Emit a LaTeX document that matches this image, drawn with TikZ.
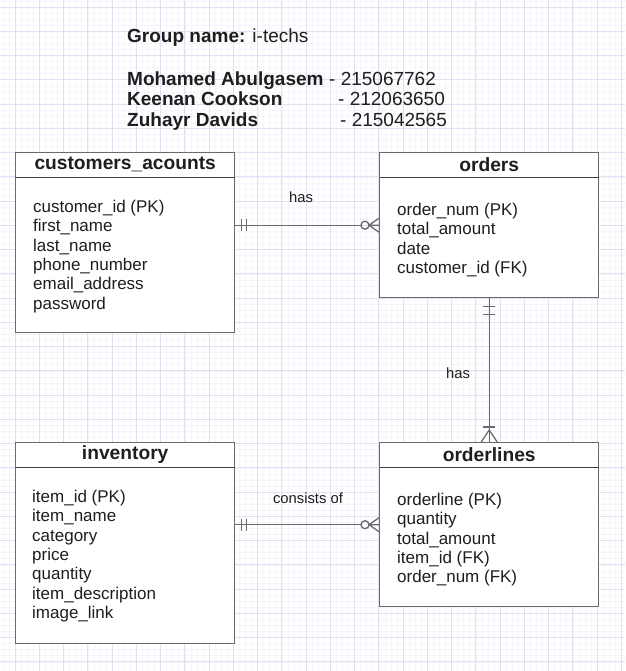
\documentclass[tikz,border=0pt]{standalone}
\usepackage{fontspec}
\setmainfont{Liberation Sans}
\usetikzlibrary{positioning}
\definecolor{gridMajor}{HTML}{E0E0F2}
\definecolor{gridMinor}{HTML}{F5F5FB}
\definecolor{lineGray}{HTML}{6A6A6A}
\definecolor{textDark}{HTML}{1E1E1E}

\begin{document}
\begin{tikzpicture}
  [x=1pt,y=-1pt,
   tableBox/.style={rectangle,draw=lineGray,line width=1.4pt,fill=white,anchor=north west,minimum width=219pt,inner sep=0pt},
   tableTitle/.style={rectangle,minimum width=219pt,minimum height=25pt,inner sep=0pt,anchor=north,font=\fontsize{19.2}{21}\selectfont\bfseries,text=textDark},
   titleRule/.style={draw=lineGray!60!black,line width=1.4pt},
   attrList/.style={align=left,anchor=north west,inner sep=0pt,font=\fontsize{17}{19.3}\selectfont,text=textDark},
   relLine/.style={draw=lineGray,line width=1.3pt},
   relLabel/.style={font=\fontsize{14.8}{16}\selectfont,text=textDark},
   headText/.style={anchor=base west,inner sep=0pt,font=\fontsize{19}{21}\selectfont,text=textDark},
   headName/.style={headText,font=\fontsize{19}{21}\selectfont\bfseries}]

  \useasboundingbox[fill=white] (0,0) rectangle (625,671);
  \foreach \i in {0,...,110} {
    \draw[gridMinor,line width=0.5pt] ({15+6.0625*(\i-3)},0) -- ++(0,671);
    \draw[gridMinor,line width=0.5pt] (0,{7+6.0625*(\i-2)}) -- ++(625,0);
  }
  \foreach \i in {0,...,27} {
    \draw[gridMajor,line width=0.8pt] ({15+24.25*(\i-1)},0) -- ++(0,671);
    \draw[gridMajor,line width=0.8pt] (0,{7+24.25*\i}) -- ++(625,0);
  }

  \node[headText] (groupName) at (127,43) {\textbf{Group name:} i-techs};
  \node[headName] (memberOne) at (127,86) {Mohamed Abulgasem};
  \node[headText] (idOne) at (329,86) {- 215067762};
  \node[headName] (memberTwo) at (127,106) {Keenan Cookson};
  \node[headText] (idTwo) at (338,106) {- 212063650};
  \node[headName] (memberThree) at (127,127) {Zuhayr Davids};
  \node[headText] (idThree) at (340,127) {- 215042565};

  \node[tableBox,minimum height=180pt] (customersAcounts) at (15,152) {};
  \node[tableTitle] (customersTitle) at (customersAcounts.north) {customers\_acounts};
  \draw[titleRule] (customersTitle.south west) -- (customersTitle.south east);
  \node[attrList] (customersAttrs) at ([shift={(18,48)}]customersAcounts.north west)
    {customer\_id (PK)\\first\_name\\last\_name\\phone\_number\\email\_address\\password};

  \node[tableBox,minimum height=145pt] (orders) at (379,152) {};
  \node[tableTitle] (ordersTitle) at (orders.north) {orders};
  \draw[titleRule] (ordersTitle.south west) -- (ordersTitle.south east);
  \node[attrList] (ordersAttrs) at ([shift={(18,51)}]orders.north west)
    {order\_num (PK)\\total\_amount\\date\\customer\_id (FK)};

  \node[tableBox,minimum height=201pt] (inventory) at (15,442) {};
  \node[tableTitle] (inventoryTitle) at (inventory.north) {inventory};
  \draw[titleRule] (inventoryTitle.south west) -- (inventoryTitle.south east);
  \node[attrList] (inventoryAttrs) at ([shift={(17,48)}]inventory.north west)
    {item\_id (PK)\\item\_name\\category\\price\\quantity\\item\_description\\image\_link};

  \node[tableBox,minimum height=164pt] (orderlines) at (379,442) {};
  \node[tableTitle] (orderlinesTitle) at (orderlines.north) {orderlines};
  \draw[titleRule] (orderlinesTitle.south west) -- (orderlinesTitle.south east);
  \node[attrList] (orderlinesAttrs) at ([shift={(18,51)}]orderlines.north west)
    {orderline (PK)\\quantity\\total\_amount\\item\_id (FK)\\order\_num (FK)};

  % customers -- orders
  \coordinate (custEnd) at (customersAcounts.east |- orders.west);
  \coordinate (custCircle) at ([xshift=-14pt]orders.west);
  \draw[relLine] (custEnd) -- ([xshift=-4pt]custCircle);
  \draw[relLine] ([xshift=6pt]custEnd) ++(0,-6) -- ++(0,12);
  \draw[relLine] ([xshift=11pt]custEnd) ++(0,-6) -- ++(0,12);
  \draw[relLine] (custCircle) circle (4pt);
  \draw[relLine] ([xshift=4pt]custCircle) -- ([yshift=-7pt]orders.west)
    ([xshift=4pt]custCircle) -- (orders.west)
    ([xshift=4pt]custCircle) -- ([yshift=7pt]orders.west);
  \node[relLabel] (hasTop) at (301,197) {has};

  % orders -- orderlines
  \draw[relLine] (orders.south) -- (orderlines.north);
  \draw[relLine] ([yshift=-8pt]orders.south) ++(-6,0) -- ++(12,0);
  \draw[relLine] ([yshift=-16pt]orders.south) ++(-6,0) -- ++(12,0);
  \draw[relLine] ([yshift=15pt]orderlines.north) ++(-6,0) -- ++(12,0);
  \draw[relLine] ([yshift=12pt]orderlines.north) -- ([xshift=-8pt]orderlines.north)
    ([yshift=12pt]orderlines.north) -- ([xshift=8pt]orderlines.north);
  \node[relLabel] (hasSide) at (458,373) {has};

  % inventory -- orderlines
  \coordinate (invEnd) at (inventory.east |- orderlines.west);
  \coordinate (invCircle) at ([xshift=-14pt]orderlines.west);
  \draw[relLine] (invEnd) -- ([xshift=-4pt]invCircle);
  \draw[relLine] ([xshift=6pt]invEnd) ++(0,-6) -- ++(0,12);
  \draw[relLine] ([xshift=11pt]invEnd) ++(0,-6) -- ++(0,12);
  \draw[relLine] (invCircle) circle (4pt);
  \draw[relLine] ([xshift=4pt]invCircle) -- ([yshift=-7pt]orderlines.west)
    ([xshift=4pt]invCircle) -- (orderlines.west)
    ([xshift=4pt]invCircle) -- ([yshift=7pt]orderlines.west);
  \node[relLabel] (consistsOf) at (308,498) {consists of};
\end{tikzpicture}
\end{document}
